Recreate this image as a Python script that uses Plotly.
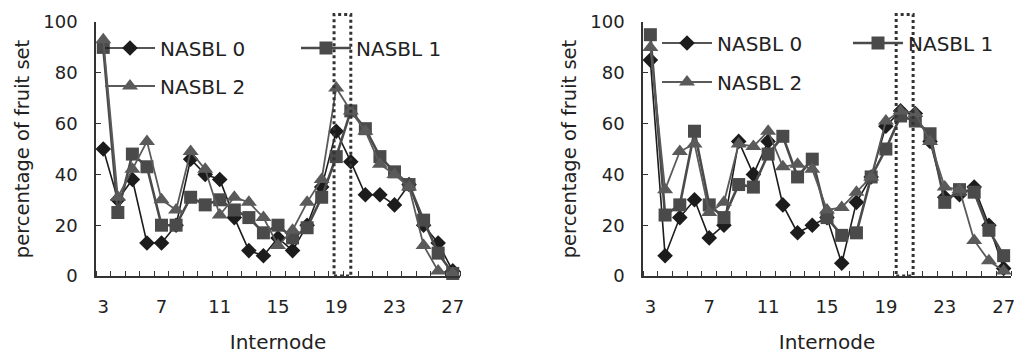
import plotly.graph_objects as go

# ---------------- data ----------------
internodes = list(range(3, 28))
x_tick_labels = [3, 7, 11, 15, 19, 23, 27]
y_tick_values = [0, 20, 40, 60, 80, 100]
series_names = ["NASBL 0", "NASBL 1", "NASBL 2"]

left_nasbl0 = [50, 30, 38, 13, 13, 20, 46, 40, 38, 23, 10, 8, 15, 10, 20, 35, 57, 45, 32, 32, 28, 36, 20, 13, 2]
left_nasbl1 = [90, 25, 48, 43, 20, 20, 31, 28, 30, 26, 23, 17, 20, 15, 19, 31, 47, 65, 58, 47, 41, 36, 22, 9, 1]
left_nasbl2 = [93, 31, 42, 53, 30, 26, 49, 42, 24, 31, 29, 23, 12, 18, 29, 38, 74, 65, 57, 44, 40, 35, 12, 2, 1]

right_nasbl0 = [85, 8, 23, 30, 15, 20, 53, 40, 53, 28, 17, 20, 23, 5, 29, 39, 59, 65, 64, 53, 31, 32, 35, 20, 3]
right_nasbl1 = [95, 24, 28, 57, 28, 23, 36, 35, 48, 55, 39, 46, 23, 16, 17, 39, 50, 63, 61, 56, 29, 34, 33, 18, 8]
right_nasbl2 = [90, 34, 49, 52, 25, 29, 52, 51, 57, 43, 44, 42, 26, 27, 33, 39, 61, 65, 64, 53, 35, 34, 14, 6, 2]

# highlighted internode windows (dotted boxes), in internode units
left_window = [18.85, 20.0]
right_window = [19.7, 20.85]
window_top = 103

# ---------------- style ----------------
X_RANGE = [2.5, 27.5]
Y_RANGE = [0, 100]
W, H = 1017, 355
FONT = "DejaVu Sans"
TXT = "#222222"
AXC = "#333333"

styles = [
    dict(color="#1c1c1c", symbol="diamond", size=12, width=1.6),
    dict(color="#4a4a4a", symbol="square", size=13, width=2.6),
    dict(color="#5a5a5a", symbol="triangle-up", size=14, width=1.8),
]

fig = go.Figure()

def add_panel(values, xa, ya, legs):
    for name, vals, st, lg in zip(series_names, values, styles, legs):
        fig.add_trace(go.Scatter(
            x=internodes, y=vals, name=name, mode="lines+markers",
            xaxis=xa, yaxis=ya, legend=lg,
            line=dict(color=st["color"], width=st["width"]),
            marker=dict(symbol=st["symbol"], size=st["size"], color=st["color"],
                        line=dict(width=0)),
            cliponaxis=False,
        ))

add_panel([left_nasbl0, left_nasbl1, left_nasbl2], "x", "y", ["legend", "legend", "legend2"])
add_panel([right_nasbl0, right_nasbl1, right_nasbl2], "x2", "y2", ["legend3", "legend3", "legend4"])

def xaxis_cfg(domain, anchor):
    return dict(
        domain=domain, range=X_RANGE, anchor=anchor,
        tickmode="array", tickvals=x_tick_labels, ticktext=[str(v) for v in x_tick_labels],
        ticks="", showgrid=False, zeroline=False,
        showline=True, linecolor=AXC, linewidth=1.5,
        minor=dict(tick0=2.5, dtick=1, ticks="inside", ticklen=5, tickcolor=AXC, tickwidth=1, showgrid=False),
        tickfont=dict(family=FONT, size=18, color=TXT),
        ticklabelstandoff=14,
        title=dict(text="Internode", font=dict(family=FONT, size=20, color=TXT), standoff=19),
    )

def yaxis_cfg(domain, anchor):
    return dict(
        domain=domain, range=Y_RANGE, anchor=anchor,
        tickmode="array", tickvals=y_tick_values,
        ticks="inside", ticklen=5, tickcolor=AXC, tickwidth=1,
        showgrid=False, zeroline=False,
        showline=True, linecolor=AXC, linewidth=1.5,
        tickfont=dict(family=FONT, size=18, color=TXT),
        ticklabelstandoff=13,
        title=dict(text="percentage of fruit set", font=dict(family=FONT, size=19.5, color=TXT), standoff=8),
    )

ydom = [(H - 276) / H, (H - 22) / H]
fig.update_layout(
    width=W, height=H,
    margin=dict(l=0, r=0, t=0, b=0, autoexpand=False),
    paper_bgcolor="white", plot_bgcolor="white",
    font=dict(family=FONT, color=TXT),
    xaxis=xaxis_cfg([96 / W, 460 / W], "y"),
    yaxis=yaxis_cfg(ydom, "x"),
    xaxis2=xaxis_cfg([643 / W, 1011 / W], "y2"),
    yaxis2=yaxis_cfg(ydom, "x2"),
)

def legend_cfg(xpx, ypx, entrywidth=None):
    d = dict(orientation="h", x=xpx / W, y=1 - ypx / H, xanchor="left", yanchor="middle",
             bgcolor="rgba(0,0,0,0)", borderwidth=0, itemwidth=50,
             font=dict(family=FONT, size=20, color=TXT))
    if entrywidth is not None:
        d["entrywidth"] = entrywidth
        d["entrywidthmode"] = "pixels"
    return d

fig.update_layout(
    legend=legend_cfg(100, 48, 131),
    legend2=legend_cfg(100, 86),
    legend3=legend_cfg(657, 43, 126),
    legend4=legend_cfg(657, 82),
)

def window_shape(win, xa, ya):
    span = X_RANGE[1] - X_RANGE[0]
    return dict(
        type="rect", xref=f"{xa} domain", yref=f"{ya} domain",
        x0=(win[0] - X_RANGE[0]) / span, x1=(win[1] - X_RANGE[0]) / span,
        y0=0, y1=(window_top - Y_RANGE[0]) / (Y_RANGE[1] - Y_RANGE[0]),
        line=dict(color=AXC, width=3, dash="dot"), layer="above",
    )

fig.update_layout(shapes=[window_shape(left_window, "x", "y"), window_shape(right_window, "x2", "y2")])

fig.write_html("out.html", config={"displayModeBar": False},
               post_script="document.body.style.margin='0';")
